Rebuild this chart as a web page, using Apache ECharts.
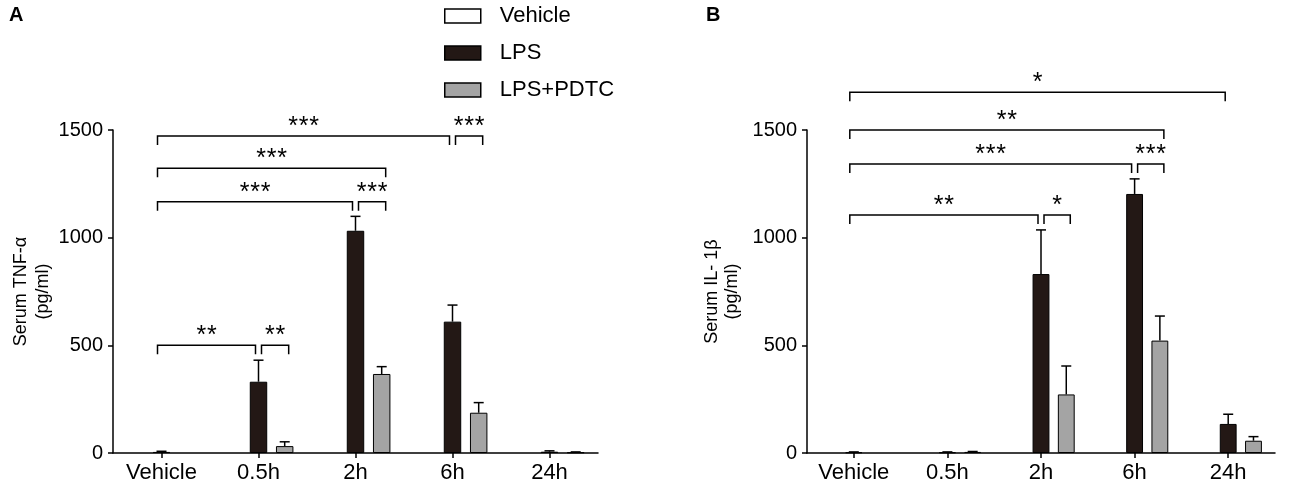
<!DOCTYPE html>
<html><head><meta charset="utf-8">
<script src="https://cdn.jsdelivr.net/npm/echarts@6.0.0/dist/echarts.min.js"></script>
<style>html,body{margin:0;padding:0;background:#fff}#c{width:1300px;height:489px}</style>
</head><body><div id="c"></div>
<script>
// ---------- data ----------
const categories = ['Vehicle', '0.5h', '2h', '6h', '24h'];
const groupNames = ['Vehicle', 'LPS', 'LPS+PDTC'];
const yTicks = [0, 500, 1000, 1500];

// Panel A: Serum TNF-α (pg/ml)
const tnfVehicle    = [5, null, null, null, null];
const tnfVehicleErr = [3, null, null, null, null];
const tnfLPS        = [null, 331, 1032, 610, 6];
const tnfLPSErr     = [null, 100, 67, 77, 4];
const tnfPDTC       = [null, 32, 367, 187, 3];
const tnfPDTCErr    = [null, 20, 34, 47, 2];
// brackets: [fromCategory, fromGroup, toCategory, toGroup, yValue, label]
const tnfBrackets = [
  [0, 0, 1, 1, 500, '**'],  [1, 1, 1, 2, 500, '**'],
  [0, 0, 2, 1, 1167, '***'], [2, 1, 2, 2, 1167, '***'],
  [0, 0, 2, 2, 1322, '***'],
  [0, 0, 3, 1, 1472, '***'], [3, 1, 3, 2, 1472, '***']
];

// Panel B: Serum IL-1β (pg/ml)
const il1bVehicle    = [3, null, null, null, null];
const il1bVehicleErr = [2, null, null, null, null];
const il1bLPS        = [null, 3, 831, 1203, 135];
const il1bLPSErr     = [null, 2, 205, 70, 45];
const il1bPDTC       = [null, 5, 272, 522, 57];
const il1bPDTCErr    = [null, 2, 132, 114, 19];
const il1bBrackets = [
  [0, 0, 2, 1, 1105, '**'], [2, 1, 2, 2, 1105, '*'],
  [0, 0, 3, 1, 1342, '***'], [3, 1, 3, 2, 1342, '***'],
  [0, 0, 3, 2, 1500, '**'],
  [0, 0, 4, 1, 1675, '*']
];

// ---------- styling / layout ----------
const FONT = "'Liberation Sans', Arial, sans-serif";
const BAR_W = 0.18;           // fraction of band
const SLOT = BAR_W * 1.5;     // center-to-center distance as fraction of band
const groupSlot = [0, 0, 1];  // Vehicle & LPS share centre slot, PDTC right slot
const colors = ['#ffffff', '#231815', '#a4a4a4'];

function xAxisCfg(gi) {
  return {
    type: 'category', gridIndex: gi, data: categories, boundaryGap: true,
    axisLine: {show: true, lineStyle: {color: '#000', width: 1.5}},
    axisTick: {show: true, alignWithLabel: true, length: 5, lineStyle: {color: '#000', width: 1.5}},
    axisLabel: {color: '#000', fontSize: 22, fontFamily: FONT, margin: 9, interval: 0},
    splitLine: {show: false}
  };
}
function yAxisCfg(gi, name, gap, lh) {
  return {
    type: 'value', gridIndex: gi, min: yTicks[0], max: yTicks[yTicks.length - 1],
    interval: yTicks[1] - yTicks[0],
    name: name, nameLocation: 'middle', nameRotate: 90, nameGap: gap,
    nameTextStyle: {color: '#000', fontSize: 18, fontFamily: FONT, lineHeight: lh},
    axisLine: {show: true, lineStyle: {color: '#000', width: 1.5}},
    axisTick: {show: true, length: 5, lineStyle: {color: '#000', width: 1.5}},
    axisLabel: {color: '#000', fontSize: 20, fontFamily: FONT, margin: 10,
      formatter: v => String(v)},
    splitLine: {show: false}
  };
}
function barSeries(gi, name, gIdx, data, stack) {
  return {
    type: 'bar', name: name, xAxisIndex: gi, yAxisIndex: gi, stack: stack + gi,
    data: data.map(v => v == null ? '-' : v),
    barWidth: (BAR_W * 100) + '%', barGap: '50%',
    itemStyle: {color: colors[gIdx], borderColor: '#000', borderWidth: 1},
    emphasis: {disabled: true}, silent: true, z: 2
  };
}
function errSeries(gi, gIdx, vals, errs) {
  const data = [];
  vals.forEach((v, i) => { if (v != null) data.push([i, v, errs[i]]); });
  return {
    type: 'custom', xAxisIndex: gi, yAxisIndex: gi, clip: false, silent: true, z: 5,
    encode: {x: 0, y: 1}, data: data,
    renderItem: function (params, api) {
      const c = api.value(0), v = api.value(1), e = api.value(2);
      const band = api.size([1, 0])[0];
      const p0 = api.coord([c, v]), p1 = api.coord([c, v + e]);
      const x = p0[0] + groupSlot[gIdx] * SLOT * band;
      const hw = 5;
      const st = {stroke: '#000', lineWidth: 1.5};
      return {type: 'group', children: [
        {type: 'line', shape: {x1: x, y1: p0[1], x2: x, y2: p1[1]}, style: st},
        {type: 'line', shape: {x1: x - hw, y1: p1[1], x2: x + hw, y2: p1[1]}, style: st}
      ]};
    }
  };
}
function bracketSeries(gi, brackets) {
  return {
    type: 'custom', xAxisIndex: gi, yAxisIndex: gi, clip: false, silent: true, z: 6,
    data: brackets.map(b => [b[0], b[4]]), encode: {x: 0, y: 1},
    renderItem: function (params, api) {
      const b = brackets[params.dataIndex];
      const band = api.size([1, 0])[0];
      const xs = api.coord([b[0], 0])[0] + groupSlot[b[1]] * SLOT * band + (b[0] === 0 ? -4 : 3);
      const xe = api.coord([b[2], 0])[0] + groupSlot[b[3]] * SLOT * band + (groupSlot[b[3]] === 1 ? 4 : -3);
      const y = api.coord([0, b[4]])[1];
      const drop = 9;
      const children = [
        {type: 'polyline', shape: {points: [[xs, y + drop], [xs, y], [xe, y], [xe, y + drop]]},
         style: {stroke: '#000', lineWidth: 1.5, fill: null}}
      ];
      const chars = b[5].split('');
      const step = 10.5, cx = (xs + xe) / 2;
      chars.forEach((ch, k) => {
        children.push({type: 'text', x: cx + (k - (chars.length - 1) / 2) * step, y: y - 9,
          style: {text: ch, fontSize: 25, fontFamily: FONT, fill: '#000', align: 'center', verticalAlign: 'middle'}});
      });
      return {type: 'group', children: children};
    }
  };
}
function placeholder(gi) {
  return {type: 'bar', name: '_slot', xAxisIndex: gi, yAxisIndex: gi, stack: 'p' + gi,
    data: categories.map(() => '-'), barWidth: (BAR_W * 100) + '%', barGap: '50%', silent: true};
}

const option = {
  animation: false,
  backgroundColor: '#fff',
  title: [
    {text: 'A', left: 9, top: 5, padding: 0, textStyle: {fontSize: 20, fontWeight: 'bold', fontFamily: FONT, color: '#000'}},
    {text: 'B', left: 706, top: 5, padding: 0, textStyle: {fontSize: 20, fontWeight: 'bold', fontFamily: FONT, color: '#000'}}
  ],
  legend: {
    data: groupNames, orient: 'vertical', left: 444, top: 5, padding: 0,
    itemWidth: 36, itemHeight: 14, itemGap: 15, icon: 'rect',
    selectedMode: false,
    textStyle: {fontSize: 22, fontFamily: FONT, color: '#000', padding: [0, 0, 0, 14]},
    itemStyle: {borderColor: '#000', borderWidth: 1.5}
  },
  grid: [
    {left: 113, right: 702, top: 130, bottom: 36, containLabel: false},
    {left: 807, right: 25, top: 130, bottom: 36, containLabel: false}
  ],
  xAxis: [xAxisCfg(0), xAxisCfg(1)],
  yAxis: [yAxisCfg(0, 'Serum TNF-α\n(pg/ml)', 59, 22), yAxisCfg(1, 'Serum IL- 1β\n(pg/ml)', 65, 20)],
  series: [
    placeholder(0),
    barSeries(0, groupNames[0], 0, tnfVehicle, 'a'),
    barSeries(0, groupNames[1], 1, tnfLPS, 'a'),
    barSeries(0, groupNames[2], 2, tnfPDTC, 'b'),
    errSeries(0, 0, tnfVehicle, tnfVehicleErr),
    errSeries(0, 1, tnfLPS, tnfLPSErr),
    errSeries(0, 2, tnfPDTC, tnfPDTCErr),
    bracketSeries(0, tnfBrackets),
    placeholder(1),
    barSeries(1, groupNames[0], 0, il1bVehicle, 'a'),
    barSeries(1, groupNames[1], 1, il1bLPS, 'a'),
    barSeries(1, groupNames[2], 2, il1bPDTC, 'b'),
    errSeries(1, 0, il1bVehicle, il1bVehicleErr),
    errSeries(1, 1, il1bLPS, il1bLPSErr),
    errSeries(1, 2, il1bPDTC, il1bPDTCErr),
    bracketSeries(1, il1bBrackets)
  ]
};
const chart = echarts.init(document.getElementById('c'), null, {renderer: 'canvas'});
chart.setOption(option);
</script></body></html>
